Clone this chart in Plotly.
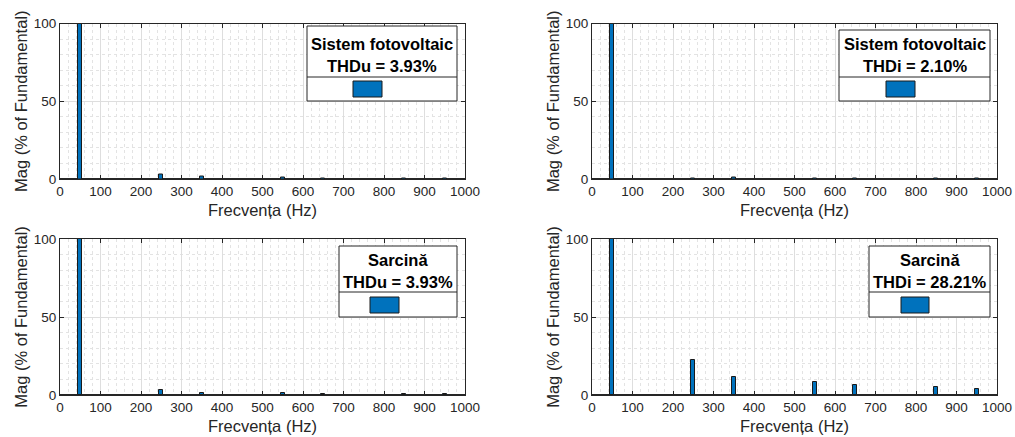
import plotly.graph_objects as go
from plotly.subplots import make_subplots

W, H = 1015, 437

# Harmonic orders shown in the FFT analysis (Hz)
freqs = [50, 250, 350, 550, 650, 850, 950]

# Magnitudes in % of fundamental
mag_pv_voltage = [100, 3.2, 1.6, 1.0, 0.6, 0.4, 0.4]
mag_pv_current = [100, 0.5, 0.7, 0.2, 0.2, 0.1, 0.1]
mag_load_voltage = [100, 3.2, 1.6, 1.0, 0.6, 0.4, 0.4]
mag_load_current = [100, 22.3, 11.4, 8.6, 6.2, 4.9, 3.9]

panel_titles = ["Sistem fotovoltaic", "Sistem fotovoltaic", "Sarcină", "Sarcină"]
thd_labels = ["THDu = 3.93%", "THDi = 2.10%", "THDu = 3.93%", "THDi = 28.21%"]
x_title = "Frecvența (Hz)"
y_title = "Mag (% of Fundamental)"
x_ticks = [0, 100, 200, 300, 400, 500, 600, 700, 800, 900, 1000]
y_ticks = [0, 50, 100]

BAR_COLOR = "#0072BD"
EDGE = "#1a1a1a"
AXIS = "#262626"
FONT = "Liberation Sans, Arial, sans-serif"


def px_x(p):
    return p / W


def px_y(p):
    return 1 - p / H


fig = make_subplots(rows=2, cols=2)

series = [mag_pv_voltage, mag_pv_current, mag_load_voltage, mag_load_current]
cells = [(1, 1), (1, 2), (2, 1), (2, 2)]
for vals, (r, c) in zip(series, cells):
    fig.add_trace(
        go.Bar(
            x=freqs,
            y=vals,
            width=10,
            marker=dict(color=BAR_COLOR, line=dict(color=EDGE, width=1)),
            showlegend=False,
        ),
        row=r,
        col=c,
    )

# Plot-area placement (pixel edges of each axes box)
x_dom = {1: (60, 465), 2: (592, 997)}
y_dom = {1: (23.5, 179), 2: (239, 395)}

for i, (r, c) in enumerate(cells):
    idx = "" if i == 0 else str(i + 1)
    xd = [px_x(x_dom[c][0]), px_x(x_dom[c][1])]
    yd = [px_y(y_dom[r][1]), px_y(y_dom[r][0])]
    fig.layout["xaxis" + idx].update(
        domain=xd,
        range=[0, 1000],
        tickvals=x_ticks,
        ticks="inside",
        ticklen=4,
        tickcolor=AXIS,
        showline=True,
        linecolor=AXIS,
        linewidth=1,
        mirror="ticks",
        showgrid=True,
        gridcolor="#dedede",
        gridwidth=1,
        zeroline=False,
        minor=dict(dtick=20, showgrid=True, gridcolor="#e3e3e3", griddash="dot", ticks=""),
        tickfont=dict(family=FONT, size=13.5, color=AXIS),
        title=dict(text=x_title, font=dict(family=FONT, size=16.5, color=AXIS), standoff=6),
        automargin=False,
        fixedrange=True,
    )
    fig.layout["yaxis" + idx].update(
        domain=yd,
        range=[0, 100],
        tickvals=y_ticks,
        ticks="inside",
        ticklen=4,
        tickcolor=AXIS,
        showline=True,
        linecolor=AXIS,
        linewidth=1,
        mirror="ticks",
        showgrid=True,
        gridcolor="#dedede",
        gridwidth=1,
        zeroline=True,
        zerolinecolor=AXIS,
        zerolinewidth=2,
        minor=dict(dtick=10, showgrid=True, gridcolor="#e3e3e3", griddash="dot", ticks=""),
        tickfont=dict(family=FONT, size=13.5, color=AXIS),
        title=dict(text=y_title, font=dict(family=FONT, size=16.5, color=AXIS), standoff=1),
        automargin=False,
        fixedrange=True,
    )

# Legend boxes: [left, right, top, divider, bottom], patch [left, right, top, bottom],
# text line centres
legend_boxes = [
    dict(box=(307, 457, 26, 77, 101), patch=(353, 382, 81, 97), lines=(44, 66)),
    dict(box=(839, 990, 30, 77, 101), patch=(886, 915, 81, 97), lines=(44, 66)),
    dict(box=(339, 457, 246, 292, 317), patch=(370, 399, 297, 313), lines=(260, 282)),
    dict(box=(869, 990, 246, 292, 317), patch=(901, 929, 297, 313), lines=(260, 282)),
]

shapes = []
annotations = []
for i, lb in enumerate(legend_boxes):
    l, rgt, t, d, b = lb["box"]
    shapes.append(dict(type="rect", xref="paper", yref="paper",
                       x0=px_x(l), x1=px_x(rgt), y0=px_y(b), y1=px_y(t),
                       fillcolor="white", line=dict(color=AXIS, width=1), layer="above"))
    shapes.append(dict(type="line", xref="paper", yref="paper",
                       x0=px_x(l), x1=px_x(rgt), y0=px_y(d), y1=px_y(d),
                       line=dict(color=AXIS, width=1), layer="above"))
    pl, pr, pt, pb = lb["patch"]
    shapes.append(dict(type="rect", xref="paper", yref="paper",
                       x0=px_x(pl), x1=px_x(pr), y0=px_y(pb), y1=px_y(pt),
                       fillcolor=BAR_COLOR, line=dict(color=EDGE, width=1), layer="above"))
    cx = px_x((l + rgt) / 2)
    for txt, yc in zip((panel_titles[i], thd_labels[i]), lb["lines"]):
        annotations.append(dict(text="<b>%s</b>" % txt, xref="paper", yref="paper",
                                x=cx, y=px_y(yc), xanchor="center", yanchor="middle",
                                showarrow=False,
                                font=dict(family=FONT, size=16.5, color="black")))

fig.update_layout(
    width=W,
    height=H,
    margin=dict(l=0, r=0, t=0, b=0, autoexpand=False),
    paper_bgcolor="white",
    plot_bgcolor="white",
    bargap=0,
    shapes=shapes,
    annotations=annotations,
    showlegend=False,
)

fig.write_html("out.html", config={"displayModeBar": False})
